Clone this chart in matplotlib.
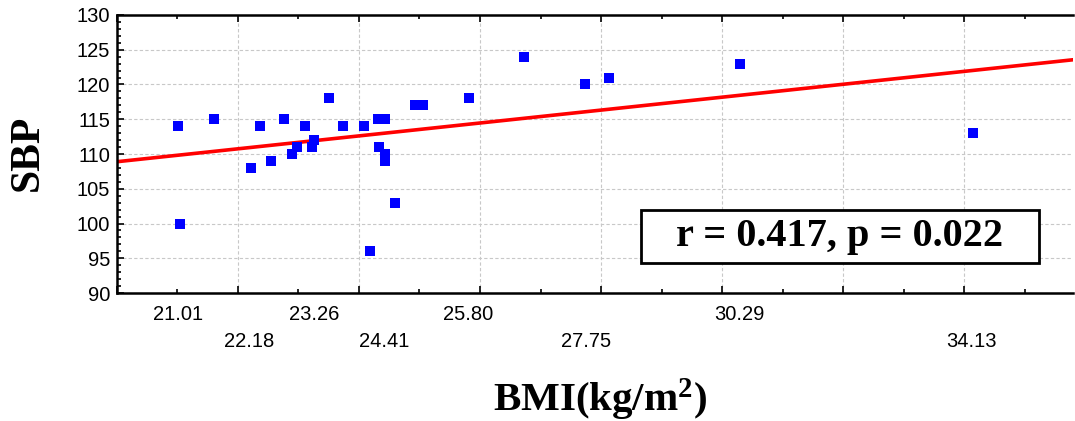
import matplotlib
matplotlib.use("Agg")
import matplotlib.pyplot as plt
import matplotlib.transforms as mtransforms
from matplotlib.patches import Rectangle
from matplotlib.ticker import MultipleLocator
import numpy as np

# BMI vs SBP values
bmi = [21.01, 21.05, 21.61, 22.21, 22.37, 22.54, 22.76, 22.90, 22.97, 23.10,
       23.23, 23.26, 23.50, 23.73, 24.09, 24.19, 24.32, 24.43, 24.33, 24.43,
       24.43, 24.59, 24.93, 25.05, 25.82, 26.72, 27.74, 28.14, 30.30, 34.14]
sbp = [114, 100, 115, 108, 114, 109, 115, 110, 111, 114,
       111, 112, 118, 114, 114, 96, 115, 115, 111, 110,
       109, 103, 117, 117, 118, 124, 120, 121, 123, 113]

# staggered axis labels (upper row, lower row)
labels_top = [21.01, 23.26, 25.80, 30.29]
labels_bottom = [22.18, 24.41, 27.75, 34.13]

plt.rcParams['mathtext.fontset'] = 'custom'
plt.rcParams['mathtext.rm'] = 'Liberation Serif:bold'
plt.rcParams['mathtext.default'] = 'rm'

fig = plt.figure(figsize=(10.75, 4.21), dpi=100)
ax = fig.add_axes([0.1088, 0.304, 0.8893, 0.6604])

ax.scatter(bmi, sbp, marker='s', s=60, color='#0000ff', zorder=3, linewidths=0)

# least squares fit line
slope, icpt = np.polyfit(bmi, sbp, 1)
xl = np.array([20, 36])
ax.plot(xl, slope * xl + icpt, color='#ff0000', lw=2.6, zorder=2)

ax.set_xlim(20, 35.8)
ax.set_ylim(90, 130)
ax.xaxis.set_major_locator(MultipleLocator(2))
ax.xaxis.set_minor_locator(MultipleLocator(1))
ax.yaxis.set_major_locator(MultipleLocator(5))
ax.yaxis.set_minor_locator(MultipleLocator(1))
ax.set_xticklabels([])
ax.grid(True, which='major', color='#c8c8c8', linestyle=(0, (3, 2)), lw=0.8)
ax.set_axisbelow(True)

ax.tick_params(which='both', direction='in', top=True, right=False, width=1.2)
ax.tick_params(which='major', length=5)
ax.tick_params(which='minor', length=3)
ax.tick_params(axis='y', labelsize=14.5, pad=5)
for lab in ax.get_yticklabels():
    lab.set_family('Liberation Sans')

for side in ['left', 'bottom', 'top']:
    ax.spines[side].set_linewidth(1.8)
ax.spines['right'].set_visible(False)

trans = mtransforms.blended_transform_factory(ax.transData, ax.transAxes)
for v in labels_top:
    ax.text(v, -0.079, '%.2f' % v, transform=trans, ha='center', va='center',
            fontsize=14.5, family='Liberation Sans')
for v in labels_bottom:
    ax.text(v, -0.176, '%.2f' % v, transform=trans, ha='center', va='center',
            fontsize=14.5, family='Liberation Sans')

fig.text(0.558, 0.05, 'BMI(kg/m$^{2}$)', ha='center', va='center',
         fontsize=29.5, family='Liberation Serif', weight='bold')
fig.text(0.026, 0.636, 'SBP', ha='center', va='center', rotation=90,
         fontsize=30, family='Liberation Serif', weight='bold')

# statistics box
ax.add_patch(Rectangle((0.548, 0.108), 0.4164, 0.1906, transform=ax.transAxes,
                       fc='white', ec='black', lw=2, zorder=4))
ax.text(0.756, 0.203, 'r = 0.417, p = 0.022', transform=ax.transAxes,
        ha='center', va='center', fontsize=29, family='Liberation Serif',
        weight='bold', zorder=5)

fig.savefig('out.png', dpi=100)
